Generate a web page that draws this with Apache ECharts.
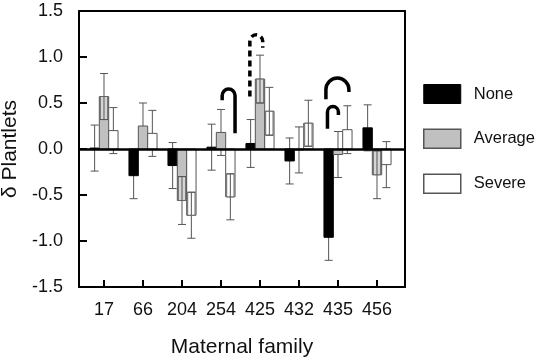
<!DOCTYPE html>
<html><head><meta charset="utf-8">
<script src="https://cdn.jsdelivr.net/npm/echarts@6/dist/echarts.min.js"></script>
<style>html,body{margin:0;padding:0;background:#fff}#c{width:538px;height:362px}</style>
</head><body><div id="c"></div>
<script>
const families = ['17','66','204','254','425','432','435','456'];
const yTicks = [-1.5,-1.0,-0.5,0.0,0.5,1.0,1.5];
const noneMean = [0.01,-0.29,-0.18,0.02,0.06,-0.13,-0.96,0.23];
const noneSE   = [0.25,0.25,0.25,0.25,0.26,0.25,0.25,0.25];
const avgMean  = [0.57,0.25,-0.56,0.18,0.76,-0.01,-0.06,-0.28];
const avgSE    = [0.25,0.25,0.26,0.25,0.26,0.25,0.25,0.26];
const sevMean  = [0.20,0.17,-0.72,-0.52,0.41,0.28,0.21,-0.17];
const sevSE    = [0.25,0.25,0.25,0.25,0.26,0.25,0.26,0.25];
// significance brackets (x in category index units): [left x, right x, left leg end, right leg end, top, dashed]
const brackets = [
  [3.03,3.36,0.53,0.17,0.67,0],
  [3.74,4.07,0.57,1.10,1.26,1],
  [5.69,6.28,0.54,0.62,0.79,0],
  [5.73,6.01,0.22,0.37,0.48,0]
];

const BAR_W = 0.24;
const FONT = "'Liberation Sans', Arial, sans-serif";
const X0 = 0.641;
const X_MAX = 7 + X0 + 0.718;
const catPos = families.map((f,i)=>i + X0);

function barRender(fill, stroke, innerFill, showInner, offset){
  return function(params, api){
    const xc = api.value(0), m = api.value(1), se = api.value(2);
    const x = xc + offset;
    const p0 = api.coord([x,0]), pm = api.coord([x,m]);
    const w = api.size([BAR_W,0])[0];
    const cx = p0[0];
    const left = cx - w/2;
    const top = Math.min(p0[1], pm[1]);
    const h = Math.abs(pm[1]-p0[1]);
    const hi = api.coord([x,m+se])[1], lo = api.coord([x,m-se])[1];
    const cap = 4;
    const eb = {stroke:'#555', lineWidth:1};
    const ch = [
      {type:'line', shape:{x1:cx,y1:hi,x2:cx,y2:lo}, style:eb},
      {type:'line', shape:{x1:cx-cap,y1:hi,x2:cx+cap,y2:hi}, style:eb},
      {type:'line', shape:{x1:cx-cap,y1:lo,x2:cx+cap,y2:lo}, style:eb},
      {type:'rect', shape:{x:left,y:top,width:w,height:h}, style:{fill:fill, stroke:stroke, lineWidth:1}}
    ];
    if (showInner && Math.abs(m) > se){
      const inner = m - Math.sign(m)*se;
      const pi = api.coord([x,inner])[1];
      ch.push({type:'rect', shape:{x:left+1,y:Math.min(pi,pm[1]),width:w-2,height:Math.abs(pm[1]-pi)}, style:{fill:innerFill, stroke:'#666', lineWidth:1}});
      ch.push({type:'line', shape:{x1:cx,y1:pi,x2:cx,y2:pm[1]}, style:eb});
      ch.push({type:'line', shape:{x1:cx-cap,y1:pi,x2:cx+cap,y2:pi}, style:eb});
    }
    return {type:'group', children:ch};
  };
}

function bracketRender(params, api){
  const xl = api.value(0) + X0, xr = api.value(1) + X0, yl = api.value(2), yr = api.value(3), yt = api.value(4), dashed = api.value(5);
  const pl = api.coord([xl,yl]), pr = api.coord([xr,yr]);
  const ptop = api.coord([xl,yt])[1] + 1.75;
  const r = (pr[0]-pl[0])/2;
  const cy = ptop + r;
  const d = 'M'+pl[0]+' '+pl[1]+' L'+pl[0]+' '+cy+' A'+r+' '+r+' 0 0 1 '+pr[0]+' '+cy+' L'+pr[0]+' '+pr[1];
  return {type:'path', shape:{pathData:d}, style:{fill:null, stroke:'#000', lineWidth:3.5, lineDash: dashed ? [6,4] : null}};
}

const zip = (a,b) => a.map((v,i)=>[catPos[i],v,b[i]]);

const chart = echarts.init(document.getElementById('c'), null, {renderer:'canvas'});
chart.setOption({
  animation:false,
  backgroundColor:'#fff',
  textStyle:{fontFamily:FONT},
  grid:{left:79, right:133, top:11, bottom:75, show:false, outerBounds:{left:-100, top:-100, right:-100, bottom:-100}},
  legend:{
    orient:'vertical', left:423, top:84, padding:0, itemWidth:37, itemHeight:19, itemGap:24.5,
    icon:'rect', selectedMode:false,
    textStyle:{fontSize:16.5, color:'#111', fontFamily:FONT, padding:[0,0,0,8]},
    data:[
      {name:'None', itemStyle:{color:'#000', borderColor:'#000', borderWidth:1}},
      {name:'Average', itemStyle:{color:'#c0c0c0', borderColor:'#555', borderWidth:1.5}},
      {name:'Severe', itemStyle:{color:'#fff', borderColor:'#555', borderWidth:1.5}}
    ]
  },
  xAxis:[{
    type:'value', min:0, max:X_MAX, position:'bottom',
    axisLine:{show:true, onZero:true, onZeroAxisIndex:1, lineStyle:{color:'#000', width:2}},
    splitLine:{show:false},
    axisTick:{show:true, inside:false, length:-7, lineStyle:{color:'#000', width:2}, customValues:catPos},
    axisLabel:{show:true, customValues:catPos, formatter:v=>families[Math.round(v - X0)], fontSize:18, color:'#111', margin:14, fontFamily:FONT},
    name:'Maternal family', nameLocation:'middle', nameGap:50,
    nameTextStyle:{fontSize:21, color:'#111', fontFamily:FONT}
  },{
    type:'value', min:1, max:2, position:'top',
    axisLine:{show:true, onZero:false, lineStyle:{color:'#000', width:2}}, axisTick:{show:false}, axisLabel:{show:false}, splitLine:{show:false}
  }],
  yAxis:[{
    type:'value', min:-1.5, max:1.5, interval:0.5, position:'left',
    axisLine:{show:true, onZero:true, onZeroAxisIndex:0, lineStyle:{color:'#000', width:2}},
    splitLine:{show:false},
    axisTick:{show:true, inside:false, length:-8, lineStyle:{color:'#000', width:2}},
    axisLabel:{show:true, formatter:v=>v.toFixed(1), fontSize:18, color:'#111', margin:16, fontFamily:FONT},
    name:'δ Plantlets', nameLocation:'middle', nameGap:38,
    nameTextStyle:{fontSize:21, color:'#111', fontFamily:FONT}
  },{
    type:'value', min:1, max:2, position:'right',
    axisLine:{show:true, onZero:false, lineStyle:{color:'#000', width:2}}, axisTick:{show:false}, axisLabel:{show:false}, splitLine:{show:false}
  }],
  series:[
    {name:'None', type:'custom', renderItem:barRender('#000','#000','#000',false,-BAR_W), data:zip(noneMean,noneSE), encode:{x:0,y:1}, itemStyle:{color:'#000'},
     markLine:{silent:true, symbol:'none', data:[{yAxis:0}], lineStyle:{color:'#000', width:2.5, type:'solid'}, label:{show:false}, z:10}},
    {name:'Average', type:'custom', renderItem:barRender('#c0c0c0','#555','#d6d6d6',true,0), data:zip(avgMean,avgSE), encode:{x:0,y:1}, itemStyle:{color:'#c0c0c0'}},
    {name:'Severe', type:'custom', renderItem:barRender('#fff','#555','#fff',true,BAR_W), data:zip(sevMean,sevSE), encode:{x:0,y:1}, itemStyle:{color:'#fff'}},
    {name:'brackets', type:'custom', renderItem:bracketRender, data:brackets, encode:{x:0,y:2}, z:5}
  ]
});
</script></body></html>
